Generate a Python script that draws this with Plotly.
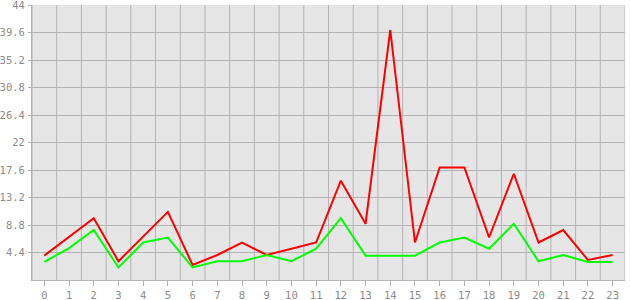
import plotly.graph_objects as go

categories = list(range(24))
red_values = [3.9, 6.9, 9.9, 3.0, 7.0, 10.9, 2.4, 4.0, 6.0, 4.0, 5.0, 6.0,
              15.9, 9.0, 40.0, 6.0, 18.0, 18.0, 6.8, 17.0, 6.0, 8.0, 3.2, 4.0]
green_values = [2.9, 5.1, 8.0, 2.0, 6.0, 6.8, 2.0, 3.0, 3.0, 4.0, 3.0, 5.0,
                9.9, 3.9, 3.9, 3.9, 6.0, 6.8, 5.0, 9.0, 3.0, 4.0, 2.9, 2.9]
y_ticks = [4.4, 8.8, 13.2, 17.6, 22, 26.4, 30.8, 35.2, 39.6, 44]
y_tick_labels = ["4.4", "8.8", "13.2", "17.6", "22", "26.4", "30.8", "35.2", "39.6", "44"]

grid_color = "#b4b4b4"
font = dict(family="DejaVu Sans Mono", size=10.5, color="#8c8c8c")

fig = go.Figure()
fig.add_trace(go.Scatter(x=categories, y=red_values, mode="lines",
                         line=dict(color="#ff0000", width=2), showlegend=False))
fig.add_trace(go.Scatter(x=categories, y=green_values, mode="lines",
                         line=dict(color="#00ff00", width=2), showlegend=False))

# vertical grid lines at category boundaries
for i in range(len(categories) + 1):
    fig.add_shape(type="line", xref="x", yref="paper",
                  x0=i - 0.5, x1=i - 0.5, y0=0, y1=1,
                  line=dict(color=grid_color, width=1), layer="below")

fig.update_layout(
    width=630, height=300,
    margin=dict(l=32, r=5, t=5, b=20),
    paper_bgcolor="white", plot_bgcolor="#e6e6e6",
    font=font,
)
fig.update_xaxes(
    range=[-0.5, 23.5], tickvals=categories, ticktext=[str(c) for c in categories],
    showgrid=False, zeroline=False, ticks="outside", ticklen=5, tickcolor=grid_color,
    ticklabelstandoff=0,
    showline=True, linecolor=grid_color, linewidth=1, tickfont=font, automargin=False,
    ticklabeloverflow="allow",
)
fig.update_yaxes(
    range=[0, 44.0001], tickvals=y_ticks, ticktext=y_tick_labels,
    showgrid=True, gridcolor=grid_color, gridwidth=1, zeroline=False,
    ticks="outside", ticklen=3, tickcolor=grid_color, ticklabelstandoff=1,
    showline=True, linecolor=grid_color, linewidth=1, tickfont=font, automargin=False,
    ticklabeloverflow="allow",
)

fig.write_html("out.html")
